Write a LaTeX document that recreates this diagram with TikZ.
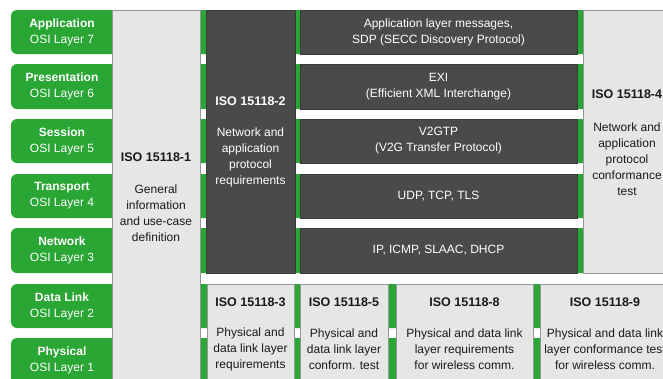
\documentclass[tikz,border=0pt]{standalone}
\usepackage{fontspec}
\setmainfont{Liberation Sans}
\definecolor{osigreen}{RGB}{42,166,52}
\definecolor{darkfill}{RGB}{74,74,74}
\definecolor{darkedge}{RGB}{58,58,58}
\definecolor{lightfill}{RGB}{230,230,230}
\definecolor{lightedge}{RGB}{150,150,150}
\definecolor{txtdark}{RGB}{25,25,25}
\begin{document}
\begin{tikzpicture}[x=1pt,y=-1pt,
  every node/.style={font=\fontsize{12}{16}\selectfont, align=center, inner sep=0pt},
  greenrow/.style={fill=osigreen, rounded corners=6pt},
  darkbox/.style={fill=darkfill, draw=darkedge, line width=0.6pt},
  lightbox/.style={fill=lightfill, draw=lightedge, line width=0.6pt},
  wtxt/.style={text=white},
  btxt/.style={text=txtdark},
  head/.style={font=\fontsize{12.5}{16}\selectfont\bfseries}]
\useasboundingbox (0,0) rectangle (663,378);
\clip (0,0) rectangle (663,378);
\fill[white] (0,0) rectangle (663,378);
% green layer rows
\foreach \t/\b in {10/54, 64/109, 119/163, 174/218, 228/273, 284/328, 338/400}
  \fill[greenrow] (11,\t) rectangle (720,\b);
% layer labels
\node[wtxt] (l7) at (62,32) {\textbf{Application}\\OSI Layer 7};
\node[wtxt] (l6) at (62,86.5) {\textbf{Presentation}\\OSI Layer 6};
\node[wtxt] (l5) at (62,141) {\textbf{Session}\\OSI Layer 5};
\node[wtxt] (l4) at (62,196) {\textbf{Transport}\\OSI Layer 4};
\node[wtxt] (l3) at (62,250.5) {\textbf{Network}\\OSI Layer 3};
\node[wtxt] (l2) at (62,306) {\textbf{Data Link}\\OSI Layer 2};
\node[wtxt] (l1) at (62,360) {\textbf{Physical}\\OSI Layer 1};
% ISO 15118-1
\draw[lightbox] (112,10) rectangle (200,400);
\node[btxt,head] (p1h) at (156,157) {ISO 15118-1};
\node[btxt] (p1b) at (156,213) {General\\information\\and use-case\\definition};
% ISO 15118-2
\draw[darkbox] (206,10) rectangle (295,273);
\node[wtxt,head] (p2h) at (250.5,101) {ISO 15118-2};
\node[wtxt] (p2b) at (250.5,157.5) {Network and\\application\\protocol\\requirements};
% middle protocol boxes
\draw[darkbox] (300,10) rectangle (577,54);
\node[wtxt] (m7) at (438.5,32) {Application layer messages,\\SDP (SECC Discovery Protocol)};
\draw[darkbox] (300,64) rectangle (577,109);
\node[wtxt] (m6) at (438.5,86.5) {EXI\\(Efficient XML Interchange)};
\draw[darkbox] (300,119) rectangle (577,163);
\node[wtxt] (m5) at (438.5,141) {V2GTP\\(V2G Transfer Protocol)};
\draw[darkbox] (300,174) rectangle (577,218);
\node[wtxt] (m4) at (438.5,196) {UDP, TCP, TLS};
\draw[darkbox] (300,228) rectangle (577,273);
\node[wtxt] (m3) at (438.5,250.5) {IP, ICMP, SLAAC, DHCP};
% ISO 15118-4
\draw[lightbox] (583,10) rectangle (671,273);
\node[btxt,head] (p4h) at (627,94) {ISO 15118-4};
\node[btxt] (p4b) at (627,159) {Network and\\application\\protocol\\conformance\\test};
% bottom boxes
\draw[lightbox] (207,284) rectangle (294,400);
\node[btxt,head] (p3h) at (250.5,302) {ISO 15118-3};
\node[btxt] (p3b) at (250.5,349) {Physical and\\data link layer\\requirements};
\draw[lightbox] (300,284) rectangle (388,400);
\node[btxt,head] (p5h) at (344,302) {ISO 15118-5};
\node[btxt] (p5b) at (344,349) {Physical and\\data link layer\\conform. test};
\draw[lightbox] (396,284) rectangle (533,400);
\node[btxt,head] (p8h) at (464.5,302) {ISO 15118-8};
\node[btxt] (p8b) at (464.5,349) {Physical and data link\\layer requirements\\for wireless comm.};
\draw[lightbox] (540,284) rectangle (670,400);
\node[btxt,head] (p9h) at (605,302) {ISO 15118-9};
\node[btxt] (p9b) at (605,349) {Physical and data link\\layer conformance test\\for wireless comm.};
\end{tikzpicture}
\end{document}
